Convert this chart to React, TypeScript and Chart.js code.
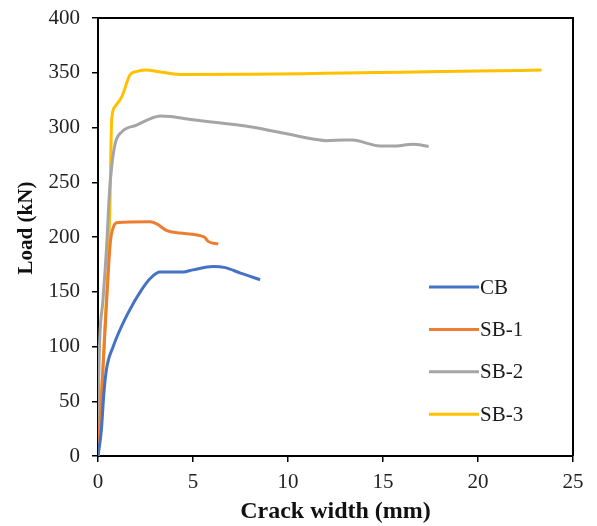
import React, { useEffect, useRef } from "react";
import { Chart, registerables } from "chart.js";

Chart.register(...registerables);

const seriesLabels = ["CB", "SB-1", "SB-2", "SB-3"];
const seriesColors = ["#4472C4", "#ED7D31", "#A5A5A5", "#FFC000"];

const cbX = [0, 0.18, 0.3, 0.44, 0.8, 1.58, 2.3, 2.8, 3.26, 4.47, 5.0, 6.05, 6.7, 7.5, 8.53];
const cbY = [0, 24, 55, 78.5, 100, 130.5, 152, 163, 168, 168, 170, 173, 172, 167, 161];

const sb1X = [0, 0.2, 0.45, 0.65, 0.81, 0.98, 2.74, 3.09, 3.6, 4.3, 5.6, 5.65, 5.8, 6.33];
const sb1Y = [0, 60, 140, 195, 209, 213, 214, 212, 206, 203.6, 200, 199, 196, 193.6];

const sb2X = [0, 0.03, 0.1, 0.25, 0.45, 0.6, 0.72, 0.9, 1.25, 2.0, 3.3, 3.8, 5.0, 8.0, 10.0, 11.5, 12.0, 13.0, 13.4, 14.7, 15.5, 16.6, 17.0, 17.4];
const sb2Y = [0, 60, 110, 140, 190, 240, 264, 285, 296, 302, 310.5, 310, 307, 300.7, 294, 289, 288, 288.6, 288.5, 283.4, 283, 284.6, 284, 282.5];

const sb3X = [0, 0.2, 0.4, 0.55, 0.63, 0.68, 0.72, 0.89, 1.25, 1.68, 2.0, 2.5, 3.2, 4.3, 8.0, 12.0, 16.0, 20.0, 23.35];
const sb3Y = [0, 60, 130, 180, 230, 280, 307, 319, 328, 348, 351, 352.5, 351, 348.5, 348.6, 349.5, 350.5, 351.5, 352.5];

const xTicks = [0, 5, 10, 15, 20, 25];
const yTicks = [0, 50, 100, 150, 200, 250, 300, 350, 400];
const yTitle = "Load (kN)";
const xTitle = "Crack width (mm)";

const xsAll = [cbX, sb1X, sb2X, sb3X];
const ysAll = [cbY, sb1Y, sb2Y, sb3Y];

const frameAndLegend = {
  id: "frameAndLegend",
  afterDraw(chart: any) {
    const { ctx, chartArea } = chart;
    ctx.save();
    ctx.strokeStyle = "#000";
    ctx.lineWidth = 2;
    ctx.beginPath();
    ctx.moveTo(chartArea.left, chartArea.top);
    ctx.lineTo(chartArea.right, chartArea.top);
    ctx.lineTo(chartArea.right, chartArea.bottom);
    ctx.stroke();
    // y axis title
    ctx.save();
    ctx.translate(27, 228);
    ctx.rotate(-Math.PI / 2);
    ctx.fillStyle = "#111";
    ctx.font = "bold 21px 'Liberation Serif'";
    ctx.textAlign = "center";
    ctx.textBaseline = "middle";
    ctx.fillText(yTitle, 0, 0);
    ctx.restore();
    // legend inside the plot
    const x0 = 429;
    const y0 = 287;
    const gap = 42.4;
    chart.data.datasets.forEach((ds: any, i: number) => {
      const y = y0 + i * gap;
      ctx.strokeStyle = ds.borderColor;
      ctx.lineWidth = 3;
      ctx.beginPath();
      ctx.moveTo(x0, y);
      ctx.lineTo(x0 + 50, y);
      ctx.stroke();
      ctx.fillStyle = "#1a1a1a";
      ctx.font = "21px 'Liberation Serif'";
      ctx.textBaseline = "middle";
      ctx.textAlign = "left";
      ctx.fillText(ds.label, x0 + 51, y + 1);
    });
    ctx.restore();
  },
};

export default function App() {
  const ref = useRef<HTMLCanvasElement>(null);
  useEffect(() => {
    document.body.style.margin = "0";
    const datasets = seriesLabels.map((label, i) => ({
      label,
      data: xsAll[i].map((x, j) => ({ x, y: ysAll[i][j] })),
      borderColor: seriesColors[i],
      backgroundColor: seriesColors[i],
      borderWidth: 3,
      pointRadius: 0,
      cubicInterpolationMode: "monotone" as const,
      fill: false,
    }));
    const tickFont = { family: "'Liberation Serif'", size: 21 };
    const chart = new Chart(ref.current!, {
      type: "line",
      data: { datasets },
      options: {
        animation: false,
        responsive: false,
        layout: { padding: { left: 0, top: 18, right: 24, bottom: 0 } },
        plugins: { legend: { display: false }, tooltip: { enabled: false } },
        scales: {
          x: {
            type: "linear",
            min: 0,
            max: 25,
            afterBuildTicks: (s: any) => {
              s.ticks = xTicks.map((v) => ({ value: v }));
            },
            afterFit: (s: any) => {
              s.height = 70;
              s.paddingLeft = 0;
              s.paddingRight = 0;
            },
            grid: { drawOnChartArea: false, drawTicks: true, tickLength: 6, color: "#000", lineWidth: 1.5 },
            border: { display: true, color: "#000", width: 2 },
            ticks: { font: tickFont, color: "#222", padding: 8, maxRotation: 0 },
            title: {
              display: true,
              text: xTitle,
              font: { family: "'Liberation Serif'", size: 24, weight: "bold" },
              color: "#111",
              padding: { top: 0, bottom: 0 },
            },
          },
          y: {
            type: "linear",
            min: 0,
            max: 400,
            afterBuildTicks: (s: any) => {
              s.ticks = yTicks.map((v) => ({ value: v }));
            },
            afterFit: (s: any) => {
              s.width = 98;
              s.paddingTop = 0;
              s.paddingBottom = 0;
            },
            grid: { drawOnChartArea: false, drawTicks: true, tickLength: 6, color: "#000", lineWidth: 1.5 },
            border: { display: true, color: "#000", width: 2 },
            ticks: { font: tickFont, color: "#222", padding: 12 },
            title: { display: false },
          },
        },
      },
      plugins: [frameAndLegend],
    });
    return () => chart.destroy();
  }, []);
  return (
    <div style={{ width: 597, height: 526, background: "#fff" }}>
      <canvas ref={ref} width={597} height={526} style={{ display: "block" }} />
    </div>
  );
}
